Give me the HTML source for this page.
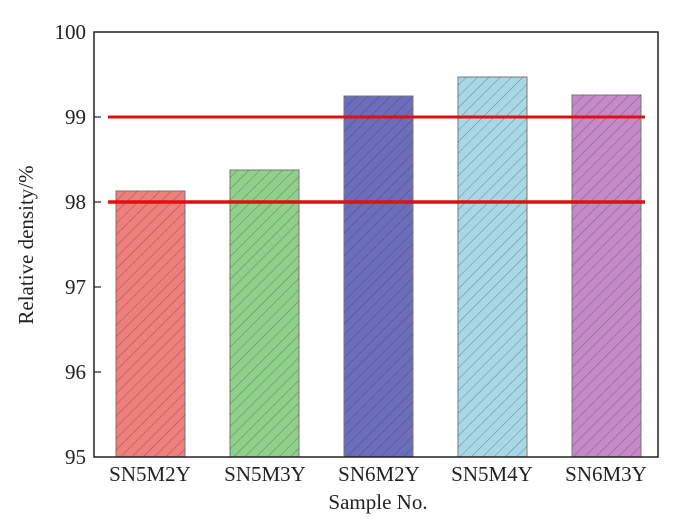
<!DOCTYPE html>
<html><head><style>body{margin:0;background:#fff}</style></head><body>
<svg width="678" height="527" xmlns="http://www.w3.org/2000/svg" font-family="Liberation Serif, serif">
<defs>
<pattern id="h" width="8" height="8" patternUnits="userSpaceOnUse" patternTransform="rotate(45)">
<line x1="0" y1="0" x2="0" y2="8" stroke="#333" stroke-opacity="0.5" stroke-width="1"/>
</pattern>
</defs>
<rect width="678" height="527" fill="#fff"/>
<g stroke="#777" stroke-width="1">
<rect x="116" y="191" width="69" height="266" fill="#ee7f7a"/>
<rect x="230" y="170" width="69" height="287" fill="#8fd18a"/>
<rect x="344" y="96" width="69" height="361" fill="#6d6dbd"/>
<rect x="458" y="77" width="69" height="380" fill="#a8d8e8"/>
<rect x="572" y="95" width="69" height="362" fill="#c48ac8"/>
</g>
<g fill="url(#h)">
<rect x="116" y="191" width="69" height="266"/>
<rect x="230" y="170" width="69" height="287"/>
<rect x="344" y="96" width="69" height="361"/>
<rect x="458" y="77" width="69" height="380"/>
<rect x="572" y="95" width="69" height="362"/>
</g>
<line x1="108" y1="117" x2="645" y2="117" stroke="#e01010" stroke-width="3"/>
<line x1="108" y1="202" x2="645" y2="202" stroke="#e01010" stroke-width="3.5"/>
<rect x="94" y="32" width="564" height="425" fill="none" stroke="#222" stroke-width="1.5"/>
<g stroke="#222" stroke-width="1.2">
<line x1="94" y1="117" x2="101" y2="117"/><line x1="94" y1="202" x2="101" y2="202"/>
<line x1="94" y1="287" x2="101" y2="287"/><line x1="94" y1="372" x2="101" y2="372"/>
</g>
<g font-size="21" fill="#222" text-anchor="end">
<text x="86" y="39">100</text><text x="86" y="124">99</text><text x="86" y="209">98</text>
<text x="86" y="294">97</text><text x="86" y="379">96</text><text x="86" y="464">95</text>
</g>
<g font-size="21" fill="#222" text-anchor="middle">
<text x="150" y="481">SN5M2Y</text><text x="265" y="481">SN5M3Y</text><text x="379" y="481">SN6M2Y</text>
<text x="492" y="481">SN5M4Y</text><text x="606" y="481">SN6M3Y</text>
<text x="378" y="509">Sample No.</text>
<text transform="translate(33,245) rotate(-90)">Relative density/%</text>
</g>
</svg>
</body></html>
